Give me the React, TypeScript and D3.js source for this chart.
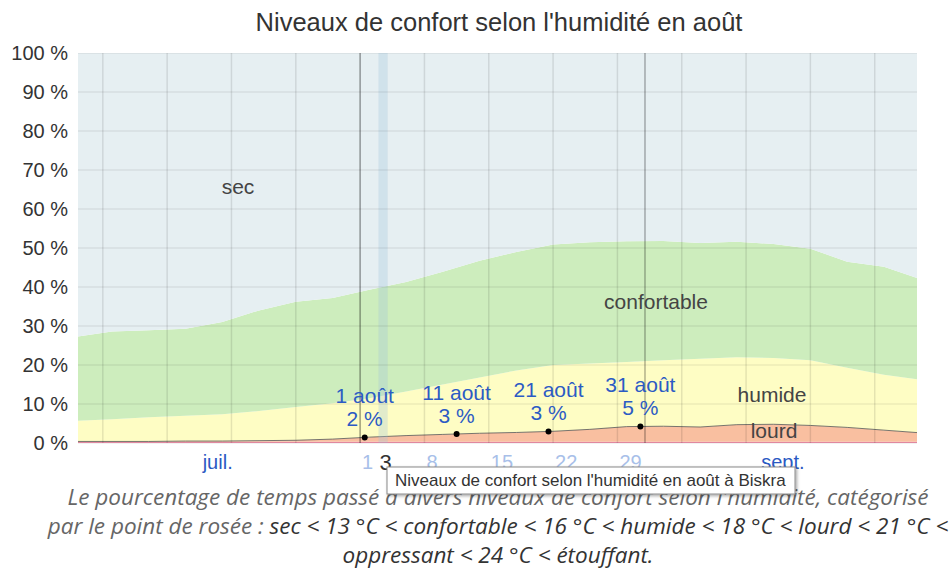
import React from "react";
import * as d3 from "d3";

// Days counted from 1 July (0 = start of 1 July)
const days = [0, 4, 8, 12, 16, 20, 24, 28, 32, 36, 40, 44, 48, 52, 56, 60, 64, 68, 72, 76, 80, 84, 88, 92];
const oppressant = [0.3, 0.3, 0.3, 0.3, 0.3, 0.3, 0.3, 0.3, 0.3, 0.3, 0.3, 0.3, 0.3, 0.3, 0.3, 0.3, 0.3, 0.3, 0.3, 0.3, 0.3, 0.3, 0.3, 0.3];
const lourd = [0.1, 0.1, 0.1, 0.2, 0.2, 0.3, 0.4, 0.7, 1.2, 1.6, 1.9, 2.2, 2.4, 2.7, 3.2, 3.9, 4.0, 3.8, 4.4, 4.5, 4.2, 3.7, 3.0, 2.3];
const humide = [5.3, 5.7, 6.2, 6.5, 6.9, 7.6, 8.5, 9.2, 10.0, 11.3, 12.8, 14.3, 15.9, 17.0, 16.9, 16.6, 16.9, 17.5, 17.3, 17.0, 16.7, 15.3, 14.2, 13.6];
const confortable = [21.5, 22.5, 22.3, 22.3, 23.6, 25.8, 27.0, 27.0, 27.8, 28.1, 28.9, 29.9, 30.4, 30.9, 31.1, 30.9, 30.6, 29.7, 29.6, 29.2, 28.6, 27.2, 27.7, 25.8];
const sec = [72.8, 71.4, 71.1, 70.7, 69.0, 66.0, 63.8, 62.8, 60.7, 58.7, 56.1, 53.3, 51.0, 49.1, 48.5, 48.3, 48.2, 48.7, 48.4, 49.0, 50.2, 53.5, 54.8, 58.0];

const yTicks = [0, 10, 20, 30, 40, 50, 60, 70, 80, 90, 100];
const weekDays = [3, 10, 17, 24, 31, 38, 45, 52, 59, 66, 73, 80, 87];
const monthBoundaries = [31, 62];
const monthLabels = [
  { label: "juil.", mid: 15.5 },
  { label: "sept.", mid: 77 },
];
const dayTicks = [
  { label: "1", day: 31 },
  { label: "8", day: 38 },
  { label: "15", day: 45 },
  { label: "22", day: 52 },
  { label: "29", day: 59 },
];
const hoverDay = 33; // 3 août
const annotDays = [31.5, 41.5, 51.5, 61.5];
const annotDates = ["1 août", "11 août", "21 août", "31 août"];
const annotValues = ["2 %", "3 %", "3 %", "5 %"];

const keys = ["oppressant", "lourd", "humide", "confortable", "sec"];
const colors: Record<string, string> = {
  oppressant: "#EE8FA8",
  lourd: "#F9BFA0",
  humide: "#FEFDC4",
  confortable: "#CDEDBD",
  sec: "#E6EFF2",
};

const W = 952;
const H = 572;
const plotL = 78;
const plotR = 917;
const plotT = 53;
const plotB = 443;

export default function App() {
  const x = d3.scaleLinear().domain([0.3, 91.6]).range([plotL, plotR]);
  const y = d3.scaleLinear().domain([0, 100]).range([plotB, plotT]);

  const rows = days.map((d, i) => ({
    day: d,
    oppressant: oppressant[i],
    lourd: lourd[i],
    humide: humide[i],
    confortable: confortable[i],
    sec: sec[i],
  }));
  const stack = d3.stack<any>().keys(keys)(rows);
  const area = d3
    .area<any>()
    .x((d) => x(d.data.day))
    .y0((d) => y(d[0]))
    .y1((d) => y(d[1]))
    .curve(d3.curveLinear);

  const lourdLayer = stack[1];
  const lourdLine = d3
    .line<any>()
    .x((d) => x(d.data.day))
    .y((d) => y(d[1]))
    .curve(d3.curveLinear);

  const topAt = (day: number) => {
    const i = Math.max(1, d3.bisectRight(days, day));
    const a = lourdLayer[i - 1];
    const b = lourdLayer[i];
    const t = (day - a.data.day) / (b.data.day - a.data.day);
    return a[1] + (b[1] - a[1]) * t;
  };

  const font = "'Liberation Sans', Arial, sans-serif";

  return (
    <svg width={W} height={H} style={{ position: "absolute", left: 0, top: 0, background: "#fff" }} fontFamily={font}>
      <defs>
        <clipPath id="plot">
          <rect x={plotL} y={plotT} width={plotR - plotL} height={plotB - plotT + 1} />
        </clipPath>
        <filter id="shadow" x="-5%" y="-30%" width="110%" height="160%">
          <feDropShadow dx="1.5" dy="1.5" stdDeviation="1.5" floodColor="#000" floodOpacity="0.35" />
        </filter>
      </defs>
      <text x={499} y={31} textAnchor="middle" fontSize={25.5} fill="#333">
        Niveaux de confort selon l'humidité en août
      </text>

      <g clipPath="url(#plot)">
        {stack.map((layer) => (
          <path key={layer.key} d={area(layer) || ""} fill={colors[layer.key]} />
        ))}
        <path d={lourdLine(lourdLayer) || ""} fill="none" stroke="#555" strokeWidth={1} opacity={0.8} />
        <rect x={x(hoverDay)} y={plotT} width={x(hoverDay + 1) - x(hoverDay)} height={plotB - plotT} fill="#9fc2dc" opacity={0.3} />
        {yTicks.map((t) => (
          <line key={t} x1={plotL} x2={plotR + 3} y1={y(t)} y2={y(t)} stroke="#000" strokeOpacity={0.07} strokeWidth={1.5} />
        ))}
        {weekDays.map((d) => (
          <line key={d} x1={x(d)} x2={x(d)} y1={plotT} y2={plotB} stroke="#000" strokeOpacity={0.1} strokeWidth={1.5} />
        ))}
        {monthBoundaries.map((d) => (
          <line key={d} x1={x(d)} x2={x(d)} y1={plotT} y2={plotB} stroke="#000" strokeOpacity={0.3} strokeWidth={1.5} />
        ))}
      </g>

      {yTicks.map((t) => (
        <text key={t} x={68} y={y(t) + 7} textAnchor="end" fontSize={20} fill="#333">
          {t} %
        </text>
      ))}

      <text x={238} y={194} textAnchor="middle" fontSize={21} fill="#444">sec</text>
      <text x={656} y={309} textAnchor="middle" fontSize={21} fill="#444">confortable</text>
      <text x={772} y={402} textAnchor="middle" fontSize={21} fill="#444">humide</text>
      <text x={774} y={438} textAnchor="middle" fontSize={21} fill="#444">lourd</text>

      {annotDays.map((d, i) => {
        const cy = y(topAt(d));
        return (
          <g key={d}>
            <circle cx={x(d)} cy={cy} r={3} fill="#000" />
            <text x={x(d)} y={cy - 34} textAnchor="middle" fontSize={21} fill="#2C5BC4">{annotDates[i]}</text>
            <text x={x(d)} y={cy - 11} textAnchor="middle" fontSize={21} fill="#2C5BC4">{annotValues[i]}</text>
          </g>
        );
      })}

      {monthLabels.map((m) => (
        <text key={m.label} x={x(m.mid)} y={469} textAnchor="middle" fontSize={20} fill="#2B59C3">{m.label}</text>
      ))}
      {dayTicks.map((t) => (
        <text key={t.label} x={x(t.day) + 2} y={469} textAnchor="start" fontSize={20} fill="#A8BFE9">{t.label}</text>
      ))}
      <text x={x(hoverDay) + 1} y={470} textAnchor="start" fontSize={22} fill="#333">3</text>

      <g fontFamily="'Open Sans', sans-serif" fontStyle="italic" fontSize={22.5} textAnchor="middle">
        <text x={498} y={505} fill="#666">
          Le pourcentage de temps passé à divers niveaux de confort selon l'humidité, catégorisé
        </text>
        <text x={498} y={534} fill="#666">
          par le point de rosée : <tspan fill="#333">sec &lt; 13 °C &lt; confortable &lt; 16 °C &lt; humide &lt; 18 °C &lt; lourd &lt; 21 °C &lt;</tspan>
        </text>
        <text x={498} y={563} fill="#333">
          oppressant &lt; 24 °C &lt; étouffant.
        </text>
      </g>

      <g filter="url(#shadow)">
        <rect x={387} y={467} width={408} height={27} fill="#fff" stroke="#8a8a8a" strokeWidth={1} />
      </g>
      <text x={395} y={486} fontSize={17} fill="#333">
        Niveaux de confort selon l'humidité en août à Biskra
      </text>
    </svg>
  );
}
